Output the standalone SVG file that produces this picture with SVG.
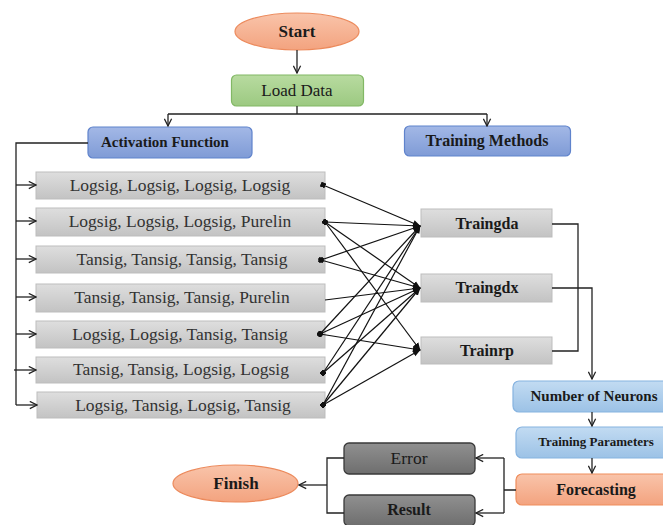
<svg xmlns="http://www.w3.org/2000/svg" width="663" height="525" viewBox="0 0 663 525" font-family="'Liberation Serif', 'Times New Roman', serif">
<defs>
<linearGradient id="gOr" x1="0" y1="0" x2="0" y2="1"><stop offset="0" stop-color="#f9c4aa"/><stop offset="1" stop-color="#f3a37f"/></linearGradient>
<linearGradient id="gGr" x1="0" y1="0" x2="0" y2="1"><stop offset="0" stop-color="#b8dba0"/><stop offset="1" stop-color="#9cc981"/></linearGradient>
<linearGradient id="gBl" x1="0" y1="0" x2="0" y2="1"><stop offset="0" stop-color="#a3b8e6"/><stop offset="1" stop-color="#7f9bd6"/></linearGradient>
<linearGradient id="gGy" x1="0" y1="0" x2="0" y2="1"><stop offset="0" stop-color="#dedede"/><stop offset="1" stop-color="#c3c3c3"/></linearGradient>
<linearGradient id="gLb" x1="0" y1="0" x2="0" y2="1"><stop offset="0" stop-color="#c2dbf2"/><stop offset="1" stop-color="#9cc2e6"/></linearGradient>
<linearGradient id="gDk" x1="0" y1="0" x2="0" y2="1"><stop offset="0" stop-color="#909090"/><stop offset="1" stop-color="#6e6e6e"/></linearGradient>
<marker id="open" viewBox="0 0 10 10" refX="9" refY="5" markerWidth="9" markerHeight="9" markerUnits="userSpaceOnUse" orient="auto">
<path d="M1,1 L9,5 L1,9" fill="none" stroke="#222" stroke-width="1.4"/>
</marker>
<marker id="fill" viewBox="0 0 10 10" refX="9" refY="5" markerWidth="8" markerHeight="8" markerUnits="userSpaceOnUse" orient="auto">
<path d="M0,1 L10,5 L0,9 Z" fill="#111"/>
</marker>
<marker id="dot" viewBox="0 0 10 10" refX="5" refY="5" markerWidth="5" markerHeight="5" markerUnits="userSpaceOnUse" orient="auto">
<rect x="0" y="0" width="10" height="10" fill="#111"/>
</marker>
</defs>
<style>
text{font-family:'Liberation Serif','Times New Roman',serif;text-anchor:middle;fill:#1a1a1a}
.b{font-weight:bold}
.row{font-size:17.5px;fill:#333}
.gy{fill:url(#gGy);stroke:#bdbdbd;stroke-width:1}
.c{fill:none;stroke:#222;stroke-width:1.3}
.x{fill:none;stroke:#111;stroke-width:1.2;marker-start:url(#dot);marker-end:url(#fill)}
.x0{fill:none;stroke:#111;stroke-width:1.2;marker-end:url(#fill)}
</style>

<g id="start"><ellipse cx="297" cy="31.5" rx="62" ry="18.5" fill="url(#gOr)" stroke="#ec8a5c" stroke-width="1.2"/><text class="b" x="297" y="37" font-size="17">Start</text></g>
<g id="load-data"><rect x="231.5" y="75" width="132" height="31" rx="5" fill="url(#gGr)" stroke="#82b865" stroke-width="1.2"/><text x="297" y="96" font-size="17">Load Data</text></g>
<g id="activation-function"><rect x="88" y="127" width="164" height="31" rx="5" fill="url(#gBl)" stroke="#5f83cc" stroke-width="1.2"/><text class="b" x="165" y="147" font-size="15">Activation Function</text></g>
<g id="training-methods"><rect x="404.5" y="126" width="166" height="30" rx="5" fill="url(#gBl)" stroke="#5f83cc" stroke-width="1.2"/><text class="b" x="487" y="146" font-size="16">Training Methods</text></g>

<g id="af1"><rect class="gy" x="36" y="172" width="289" height="27"/><text class="row" x="180" y="191">Logsig, Logsig, Logsig, Logsig</text></g>
<g id="af2"><rect class="gy" x="36" y="208" width="289" height="28"/><text class="row" x="180" y="227">Logsig, Logsig, Logsig, Purelin</text></g>
<g id="af3"><rect class="gy" x="36" y="246" width="289" height="27"/><text class="row" x="182" y="265">Tansig, Tansig, Tansig, Tansig</text></g>
<g id="af4"><rect class="gy" x="36" y="284" width="289" height="28"/><text class="row" x="182" y="303">Tansig, Tansig, Tansig, Purelin</text></g>
<g id="af5"><rect class="gy" x="36" y="321" width="289" height="27"/><text class="row" x="180" y="340">Logsig, Logsig, Tansig, Tansig</text></g>
<g id="af6"><rect class="gy" x="36" y="357" width="289" height="26"/><text class="row" x="181" y="375">Tansig, Tansig, Logsig, Logsig</text></g>
<g id="af7"><rect class="gy" x="37" y="392" width="288" height="26"/><text class="row" x="183" y="411">Logsig, Tansig, Logsig, Tansig</text></g>

<g id="traingda"><rect class="gy" x="421" y="209" width="131" height="28"/><text class="b" x="487" y="229" font-size="16">Traingda</text></g>
<g id="traingdx"><rect class="gy" x="421" y="274" width="131" height="28"/><text class="b" x="487" y="293" font-size="16">Traingdx</text></g>
<g id="trainrp"><rect class="gy" x="421" y="337" width="131" height="27"/><text class="b" x="487" y="356" font-size="16">Trainrp</text></g>

<g id="number-of-neurons"><rect x="513" y="381" width="156" height="31" rx="6" fill="url(#gLb)" stroke="#86b3e0" stroke-width="1.2"/><text class="b" x="594" y="401" font-size="15">Number of Neurons</text></g>
<g id="training-parameters"><rect x="516" y="427" width="153" height="31" rx="6" fill="url(#gLb)" stroke="#86b3e0" stroke-width="1.2"/><text class="b" x="596" y="446" font-size="13">Training Parameters</text></g>
<g id="forecasting"><rect x="516" y="474" width="153" height="31" rx="6" fill="url(#gOr)" stroke="#ef8d5c" stroke-width="1.2"/><text class="b" x="596" y="495" font-size="16">Forecasting</text></g>

<g id="error"><rect x="344" y="443" width="131" height="31" rx="5" fill="url(#gDk)" stroke="#3a3a3a" stroke-width="1.3"/><text x="409" y="464" font-size="17.5">Error</text></g>
<g id="result"><rect x="344" y="495" width="131" height="31" rx="5" fill="url(#gDk)" stroke="#3a3a3a" stroke-width="1.3"/><text class="b" x="409" y="515" font-size="16">Result</text></g>
<g id="finish"><ellipse cx="235.5" cy="483.5" rx="62.5" ry="18.5" fill="url(#gOr)" stroke="#ec8a5c" stroke-width="1.2"/><text class="b" x="236" y="489" font-size="17">Finish</text></g>

<g id="connectors">
<path class="c" d="M297,50 V73" marker-end="url(#open)"/>
<path class="c" d="M297,106 V114 M168,114 H487"/>
<path class="c" d="M168,114 V126" marker-end="url(#open)"/>
<path class="c" d="M487,114 V126" marker-end="url(#open)"/>
<path class="c" d="M88,143 H16 V405"/>
<path class="c" d="M16,185 H36" marker-end="url(#open)"/>
<path class="c" d="M16,221 H36" marker-end="url(#open)"/>
<path class="c" d="M16,259 H36" marker-end="url(#open)"/>
<path class="c" d="M16,297 H36" marker-end="url(#open)"/>
<path class="c" d="M16,334 H36" marker-end="url(#open)"/>
<path class="c" d="M14,370 H36" marker-end="url(#open)"/>
<path class="c" d="M16,405 H37" marker-end="url(#open)"/>
<path class="x" d="M323,185 L420,226"/>
<path class="x" d="M325,222 L420,226"/>
<path class="x" d="M325,222 L420,288"/>
<path class="x" d="M325,222 L420,350"/>
<path class="x" d="M321,260 L420,226"/>
<path class="x" d="M321,260 L420,288"/>
<path class="x0" d="M325,300 L420,288"/>
<path class="x" d="M320,334 L420,226"/>
<path class="x" d="M320,334 L420,288"/>
<path class="x" d="M320,334 L420,350"/>
<path class="x" d="M323,373 L420,226"/>
<path class="x" d="M323,373 L420,288"/>
<path class="x" d="M323,405 L420,226"/>
<path class="x" d="M323,405 L420,288"/>
<path class="x" d="M323,405 L420,350"/>
<path class="c" d="M552,224 H578 V351 H552"/>
<path class="c" d="M552,288 H592 V379" marker-end="url(#open)"/>
<path class="c" d="M592,412 V426" marker-end="url(#open)"/>
<path class="c" d="M592,458 V473" marker-end="url(#open)"/>
<path class="c" d="M516,490 H504 M504,458 V513"/>
<path class="c" d="M504,458 H476" marker-end="url(#open)"/>
<path class="c" d="M504,513 H476" marker-end="url(#open)"/>
<path class="c" d="M344,458 H327 V513 H344"/>
<path class="c" d="M327,485 H299" marker-end="url(#open)"/>
</g>
</svg>
